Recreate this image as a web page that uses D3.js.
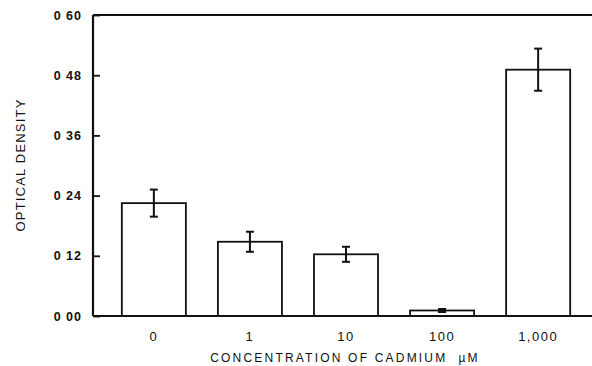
<!DOCTYPE html>
<html>
<head>
<meta charset="utf-8">
<script src="https://cdn.jsdelivr.net/npm/d3@7"></script>
<style>
  body { margin: 0; background: #fff; }
  text { font-family: "Liberation Sans", Arial, sans-serif; fill: #111; }
</style>
</head>
<body>
<div id="chart"></div>
<script>
// data
var concentrations = ["0", "1", "10", "100", "1,000"];
var density = [0.225, 0.148, 0.123, 0.011, 0.491];
var densityErr = [0.027, 0.020, 0.015, 0.003, 0.042];
var yTicks = [0, 0.12, 0.24, 0.36, 0.48, 0.60];
var yTickLabels = ["0 00", "0 12", "0 24", "0 36", "0 48", "0 60"];

var svgWidth = 592, svgHeight = 366;
var margin = { top: 15, bottom: 50, left: 93, right: 0 };
var height = svgHeight - margin.top - margin.bottom;

var svg = d3.select("#chart").append("svg")
    .attr("width", svgWidth)
    .attr("height", svgHeight);

var chartGroup = svg.append("g")
    .attr("transform", `translate(${margin.left}, ${margin.top})`);

// band scale runs a bit past the right edge, the frame is cut there
var xScale = d3.scaleBand()
    .domain(concentrations)
    .range([0, 506])
    .paddingInner(1 / 3)
    .paddingOuter(0.3);

var yScale = d3.scaleLinear()
    .domain([0, 0.6])
    .range([height, 0]);

var data = concentrations.map(function (c, i) {
    return { conc: c, value: density[i], err: densityErr[i] };
});

// bars
chartGroup.selectAll(".bar")
    .data(data)
    .enter()
    .append("rect")
    .attr("class", "bar")
    .attr("x", d => xScale(d.conc))
    .attr("y", d => yScale(d.value))
    .attr("width", xScale.bandwidth())
    .attr("height", d => height - yScale(d.value))
    .attr("fill", "#fff")
    .attr("stroke", "#111")
    .attr("stroke-width", 1.8);

// error bars
var errGroup = chartGroup.selectAll(".err")
    .data(data)
    .enter()
    .append("g")
    .attr("class", "err")
    .attr("transform", d => `translate(${xScale(d.conc) + xScale.bandwidth() / 2}, 0)`);

errGroup.append("line")
    .attr("y1", d => yScale(d.value + d.err))
    .attr("y2", d => yScale(d.value - d.err))
    .attr("stroke", "#111")
    .attr("stroke-width", 2);

errGroup.append("line")
    .attr("x1", -4).attr("x2", 4)
    .attr("y1", d => yScale(d.value + d.err))
    .attr("y2", d => yScale(d.value + d.err))
    .attr("stroke", "#111")
    .attr("stroke-width", 2);

errGroup.append("line")
    .attr("x1", -4).attr("x2", 4)
    .attr("y1", d => yScale(d.value - d.err))
    .attr("y2", d => yScale(d.value - d.err))
    .attr("stroke", "#111")
    .attr("stroke-width", 2);

// y axis, ticks point inward
var yAxis = d3.axisLeft(yScale)
    .tickValues(yTicks)
    .tickSize(-7)
    .tickPadding(11)
    .tickFormat((d, i) => yTickLabels[i]);

var yAxisG = chartGroup.append("g").call(yAxis);
yAxisG.select(".domain").remove();
yAxisG.selectAll(".tick line").attr("stroke", "#111").attr("stroke-width", 1.8);
yAxisG.selectAll(".tick text")
    .attr("font-size", "12.5px")
    .attr("font-weight", "bold")
    .attr("letter-spacing", "1px")
    .style("font-family", "'Liberation Sans', Arial, sans-serif");

// frame lines: left, bottom and top
chartGroup.append("line")
    .attr("x1", 0).attr("x2", 0)
    .attr("y1", 0).attr("y2", height)
    .attr("stroke", "#111").attr("stroke-width", 2.2);
chartGroup.append("line")
    .attr("x1", 0).attr("x2", svgWidth)
    .attr("y1", height).attr("y2", height)
    .attr("stroke", "#111").attr("stroke-width", 2);
chartGroup.append("line")
    .attr("x1", 0).attr("x2", svgWidth)
    .attr("y1", 0).attr("y2", 0)
    .attr("stroke", "#111").attr("stroke-width", 2);

// x axis labels
var xAxis = d3.axisBottom(xScale).tickSize(0).tickPadding(16);
var xAxisG = chartGroup.append("g")
    .attr("transform", `translate(0, ${height})`)
    .call(xAxis);
xAxisG.select(".domain").remove();
xAxisG.selectAll(".tick text")
    .attr("font-size", "13px")
    .attr("letter-spacing", "1.5px")
    .style("font-family", "'Liberation Sans', Arial, sans-serif");

// axis titles
svg.append("text")
    .attr("x", 345)
    .attr("y", 362)
    .attr("text-anchor", "middle")
    .attr("font-size", "12px")
    .attr("letter-spacing", "2.2px")
    .style("white-space", "pre")
    .text("CONCENTRATION OF CADMIUM  \u00B5M");

svg.append("text")
    .attr("transform", "rotate(-90)")
    .attr("x", -165)
    .attr("y", 25)
    .attr("text-anchor", "middle")
    .attr("font-size", "13px")
    .attr("letter-spacing", "1.2px")
    .text("OPTICAL DENSITY");
</script>
</body>
</html>
